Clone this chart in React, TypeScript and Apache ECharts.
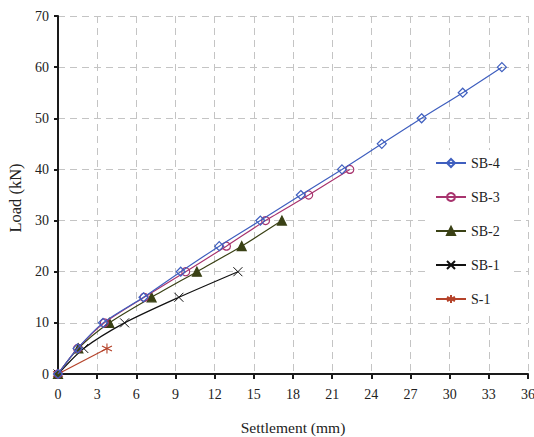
import React, { useEffect, useRef } from "react";
import * as echarts from "echarts";

const seriesNames = ["SB-4", "SB-3", "SB-2", "SB-1", "S-1"];
const sb4Settlement = [0, 1.5, 3.45, 6.55, 9.4, 12.35, 15.5, 18.6, 21.75, 24.8, 27.85, 31.0, 34.0];
const sb4Load = [0, 5, 10, 15, 20, 25, 30, 35, 40, 45, 50, 55, 60];
const sb3Settlement = [0, 1.5, 3.55, 6.6, 9.78, 12.9, 15.9, 19.2, 22.35];
const sb3Load = [0, 5, 10, 15, 20, 25, 30, 35, 40];
const sb2Settlement = [0, 1.56, 3.93, 7.17, 10.64, 14.07, 17.15];
const sb2Load = [0, 5, 10, 15, 20, 25, 30];
const sb1Settlement = [0, 1.97, 5.1, 9.26, 13.78];
const sb1Load = [0, 5, 10, 15, 20];
const s1Settlement = [0, 3.75];
const s1Load = [0, 5];

const xTicks = { min: 0, max: 36, interval: 3 };
const yTicks = { min: 0, max: 70, interval: 10 };

const FONT = "Liberation Serif";

const pair = (xs: number[], ys: number[]) => xs.map((x, i) => [x, ys[i]]);

const X_PATH = "path://M0,0L10,10M10,0L0,10";
const STAR_PATH = "path://M5,0L5,10M0.7,2.5L9.3,7.5M0.7,7.5L9.3,2.5";

export default function App() {
  const ref = useRef<HTMLDivElement>(null);
  useEffect(() => {
    if (!ref.current) return;
    const chart = echarts.init(ref.current, null, { renderer: "svg" });
    const mk = (
      name: string,
      data: number[][],
      color: string,
      symbol: string,
      size: number,
      fill: string,
      z: number,
      bw = 1.2
    ) => ({
      name,
      type: "line",
      data,
      smooth: 0.25,
      symbol,
      symbolSize: size,
      showAllSymbol: true,
      z,
      lineStyle: { color, width: 1.2 },
      itemStyle: { color: fill, borderColor: color, borderWidth: bw },
      emphasis: { disabled: true },
    });
    chart.setOption({
      animation: false,
      backgroundColor: "#fff",
      textStyle: { fontFamily: FONT },
      grid: {
        left: 58,
        right: 6,
        top: 16,
        bottom: 63,
        containLabel: false,
        outerBoundsMode: "none",
      },
      legend: {
        orient: "vertical",
        left: 430,
        top: 150,
        data: seriesNames,
        backgroundColor: "#fff",
        padding: [6, 10, 8, 5],
        itemWidth: 30,
        itemHeight: 10,
        itemGap: 20,
        textStyle: { fontFamily: FONT, fontSize: 14, color: "#222", lineHeight: 14 },
      },
      xAxis: {
        type: "value",
        min: xTicks.min,
        max: xTicks.max,
        interval: xTicks.interval,
        name: "Settlement (mm)",
        nameLocation: "middle",
        nameGap: 45,
        nameTextStyle: { fontFamily: FONT, fontSize: 15.5, color: "#222" },
        axisLine: { onZero: false, lineStyle: { color: "#1a1a1a", width: 2 } },
        axisTick: { show: true, length: 5, lineStyle: { color: "#1a1a1a", width: 2 } },
        axisLabel: { fontFamily: FONT, fontSize: 14, color: "#222", margin: 13 },
        splitLine: { show: true, lineStyle: { color: "#c4c4c4", type: [7, 5], width: 1 } },
      },
      yAxis: {
        type: "value",
        min: yTicks.min,
        max: yTicks.max,
        interval: yTicks.interval,
        name: "Load (kN)",
        nameLocation: "middle",
        nameGap: 31,
        nameTextStyle: { fontFamily: FONT, fontSize: 16.5, color: "#222", padding: [0, 6, 0, 0] },
        axisLine: { show: true, lineStyle: { color: "#1a1a1a", width: 2 } },
        axisTick: { show: true, length: 4, lineStyle: { color: "#1a1a1a", width: 2 } },
        axisLabel: { fontFamily: FONT, fontSize: 14, color: "#222", margin: 9 },
        splitLine: { show: true, lineStyle: { color: "#c4c4c4", type: [7, 5], width: 1 } },
      },
      series: [
        mk("SB-4", pair(sb4Settlement, sb4Load), "#3f5fbf", "diamond", 9, "rgba(255,255,255,0)", 6),
        mk("SB-3", pair(sb3Settlement, sb3Load), "#a8346e", "circle", 8, "rgba(255,255,255,0)", 5),
        mk("SB-2", pair(sb2Settlement, sb2Load), "#3a4115", "triangle", 9, "#3a4115", 4),
        mk("SB-1", pair(sb1Settlement, sb1Load), "#111111", X_PATH, 9, "none", 3, 1),
        mk("S-1", pair(s1Settlement, s1Load), "#b5432a", STAR_PATH, 10, "none", 2, 1.1),
      ],
    });
    return () => chart.dispose();
  }, []);
  return (
    <div
      ref={ref}
      style={{ width: 534, height: 437, position: "fixed", left: 0, top: 0 }}
    />
  );
}
